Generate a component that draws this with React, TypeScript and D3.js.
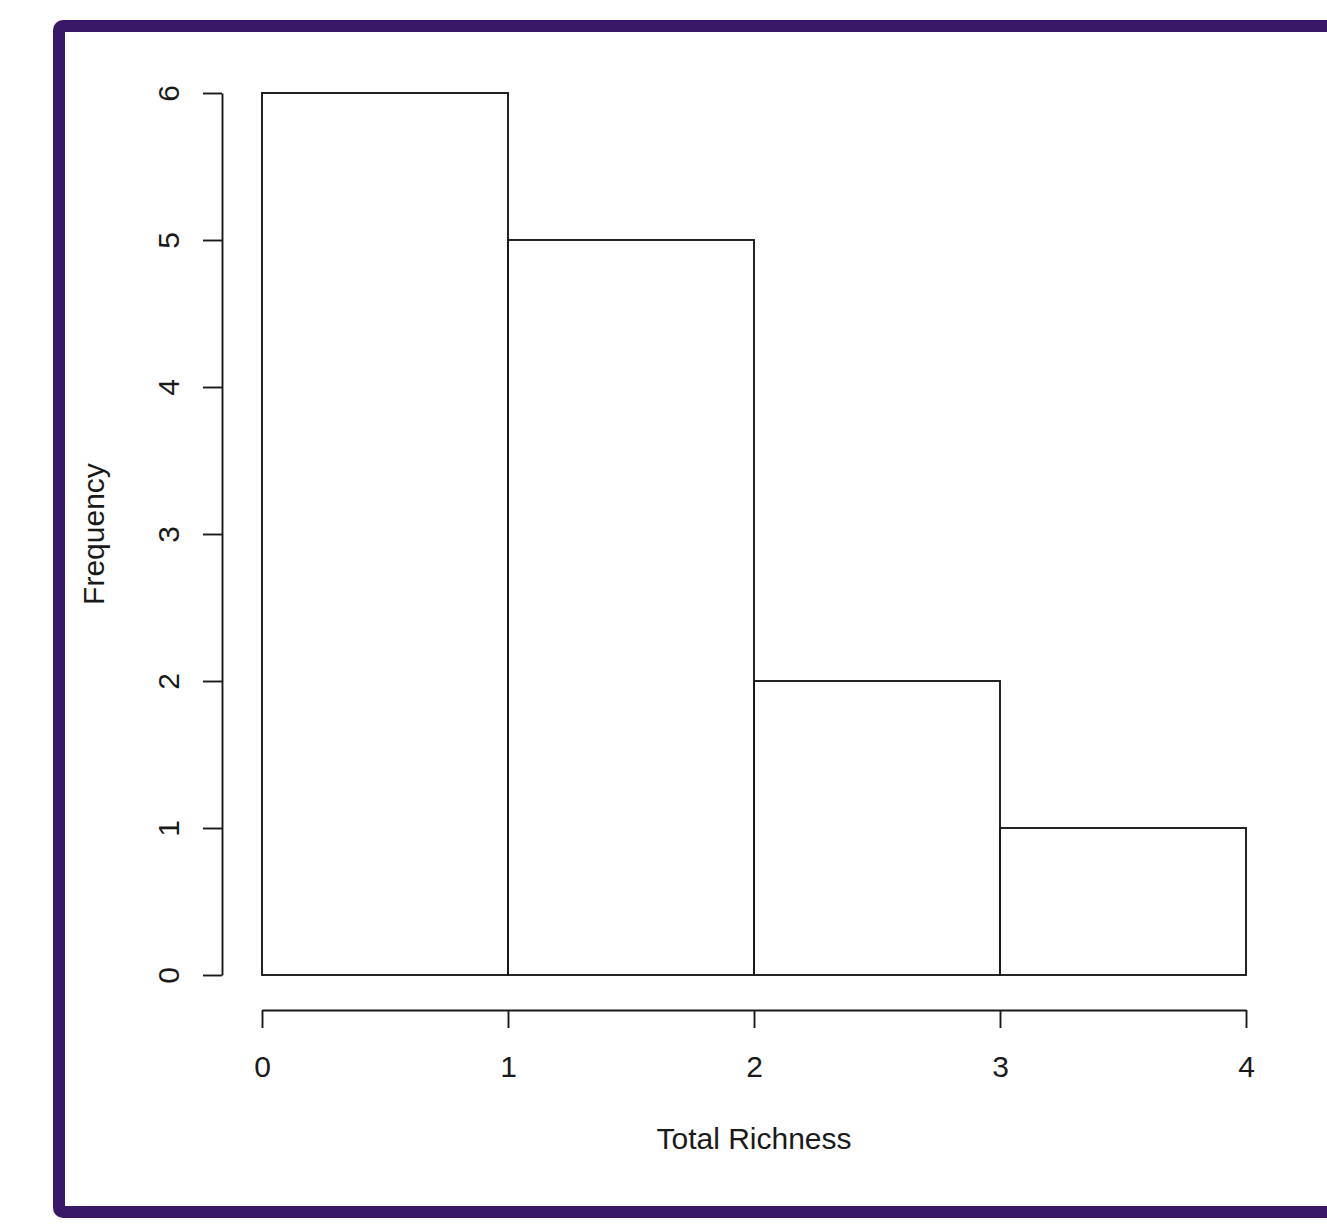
import { useEffect, useRef } from 'react';
import * as d3 from 'd3';

// histogram bins of Total Richness
const binStarts = [0, 1, 2, 3];
const binEnds = [1, 2, 3, 4];
const counts = [6, 5, 2, 1];
const xTicks = [0, 1, 2, 3, 4];
const yTicks = [0, 1, 2, 3, 4, 5, 6];

const width = 1327;
const height = 1226;
const plot = { left: 262, right: 1246, top: 93, bottom: 975 };
const font = '"Liberation Sans", Arial, Helvetica, sans-serif';
const ink = '#1a1a1a';
const lw = 1.9;

const App = () => {
    const svgRef = useRef<SVGSVGElement>(null);

    useEffect(() => {
        const svg = d3.select(svgRef.current);
        svg.selectAll('*').remove();

        const x = d3.scaleLinear().domain([0, 4]).range([plot.left, plot.right]);
        const y = d3.scaleLinear().domain([0, 6]).range([plot.bottom, plot.top]);

        // purple frame around the figure
        svg.append('rect')
            .attr('width', width)
            .attr('height', height)
            .attr('fill', '#fff');
        svg.append('rect')
            .attr('x', 59)
            .attr('y', 26)
            .attr('width', 1300)
            .attr('height', 1186)
            .attr('rx', 4)
            .attr('fill', 'none')
            .attr('stroke', '#3a1868')
            .attr('stroke-width', 12);

        // bars
        svg.append('g')
            .selectAll('rect')
            .data(counts)
            .join('rect')
            .attr('x', (_, i) => x(binStarts[i]))
            .attr('y', d => y(d))
            .attr('width', (_, i) => x(binEnds[i]) - x(binStarts[i]))
            .attr('height', d => y(0) - y(d))
            .attr('fill', 'none')
            .attr('stroke', ink)
            .attr('stroke-width', lw);

        // x axis (R style, offset below the plot)
        const xAxis = svg.append('g')
            .attr('transform', 'translate(0,1010)')
            .call(d3.axisBottom(x).tickValues(xTicks).tickSize(18).tickSizeOuter(0).tickFormat(d3.format('d')));
        xAxis.select('.domain').attr('stroke', ink).attr('stroke-width', lw);
        xAxis.selectAll('.tick line').attr('stroke', ink).attr('stroke-width', lw);
        xAxis.selectAll('.tick text')
            .attr('y', 67)
            .attr('dy', null)
            .attr('fill', ink)
            .style('font-family', font)
            .style('font-size', '30px');

        // y axis
        const yAxis = svg.append('g')
            .attr('transform', 'translate(222,0)')
            .call(d3.axisLeft(y).tickValues(yTicks).tickSize(19).tickSizeOuter(0).tickFormat(d3.format('d')));
        yAxis.select('.domain').attr('stroke', ink).attr('stroke-width', lw);
        yAxis.selectAll('.tick line').attr('stroke', ink).attr('stroke-width', lw);
        yAxis.selectAll('.tick text')
            .attr('x', null)
            .attr('transform', 'translate(-32,0) rotate(-90)')
            .attr('dy', '-0.36em')
            .attr('text-anchor', 'middle')
            .attr('fill', ink)
            .style('font-family', font)
            .style('font-size', '30px');

        // axis titles
        svg.append('text')
            .attr('x', (plot.left + plot.right) / 2)
            .attr('y', 1149)
            .attr('text-anchor', 'middle')
            .attr('fill', ink)
            .style('font-family', font)
            .style('font-size', '30px')
            .text('Total Richness');

        svg.append('text')
            .attr('transform', `translate(104,${(plot.top + plot.bottom) / 2}) rotate(-90)`)
            .attr('text-anchor', 'middle')
            .attr('fill', ink)
            .style('font-family', font)
            .style('font-size', '30px')
            .text('Frequency');
    }, []);

    return (
        <svg
            ref={svgRef}
            width={width}
            height={height}
            style={{ position: 'absolute', left: 0, top: 0, display: 'block' }}
        ></svg>
    );
};

export default App;
